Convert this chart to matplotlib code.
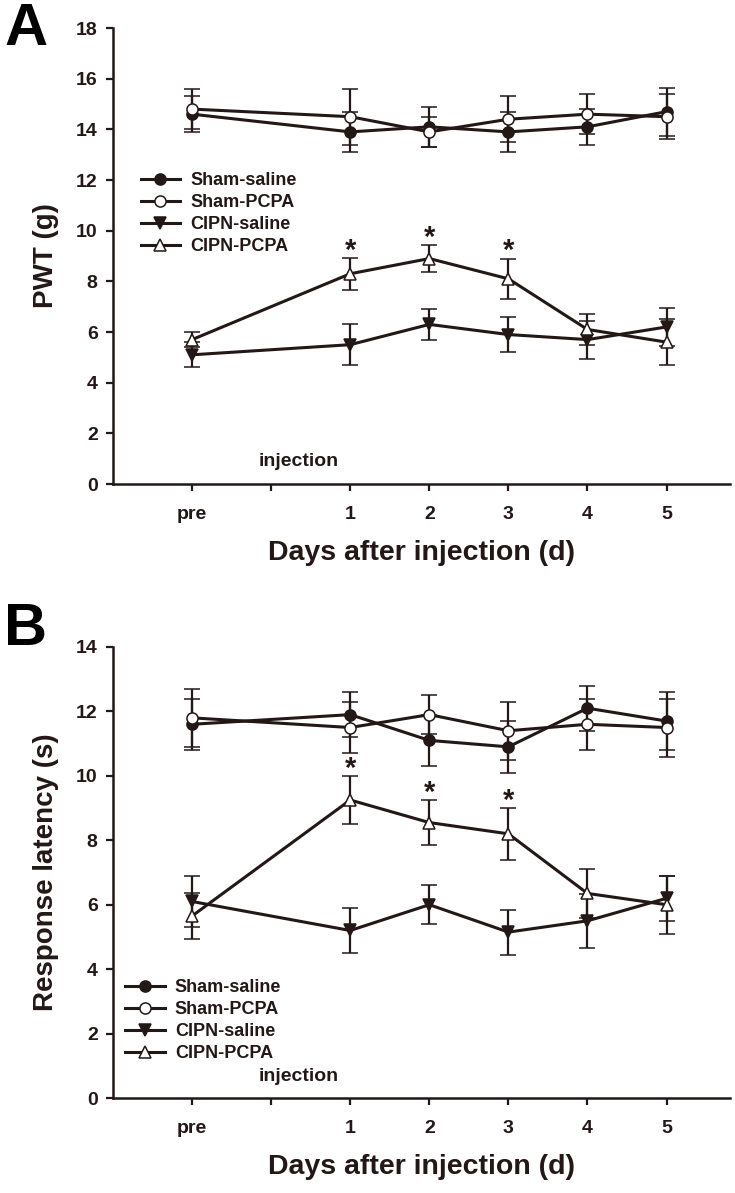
import matplotlib
matplotlib.use("Agg")
import matplotlib.pyplot as plt
from matplotlib.lines import Line2D

plt.rcParams['font.family'] = ['Liberation Sans', 'DejaVu Sans']
plt.rcParams['font.weight'] = 'bold'

INK = '#231816'

# x positions: pre, (blank), day 1..5
x_pos = [0, 2, 3, 4, 5, 6]
tick_pos = [0, 1, 2, 3, 4, 5, 6]
tick_labels = ['pre', '', '1', '2', '3', '4', '5']
groups = ['Sham-saline', 'Sham-PCPA', 'CIPN-saline', 'CIPN-PCPA']

# panel A: PWT (g)
pwt_sham_saline = [14.6, 13.9, 14.1, 13.9, 14.1, 14.7]
pwt_sham_saline_err = [0.7, 0.8, 0.8, 0.8, 0.7, 0.95]
pwt_sham_pcpa = [14.8, 14.5, 13.9, 14.4, 14.6, 14.5]
pwt_sham_pcpa_err = [0.8, 1.1, 0.6, 0.9, 0.8, 0.9]
pwt_cipn_saline = [5.1, 5.5, 6.3, 5.9, 5.7, 6.2]
pwt_cipn_saline_err = [0.5, 0.8, 0.6, 0.7, 0.75, 0.75]
pwt_cipn_pcpa = [5.7, 8.3, 8.9, 8.1, 6.1, 5.6]
pwt_cipn_pcpa_err = [0.3, 0.63, 0.53, 0.8, 0.6, 0.9]

# panel B: response latency (s)
lat_sham_saline = [11.6, 11.9, 11.1, 10.9, 12.1, 11.7]
lat_sham_saline_err = [0.8, 0.7, 0.8, 0.8, 0.7, 0.9]
lat_sham_pcpa = [11.8, 11.5, 11.9, 11.4, 11.6, 11.5]
lat_sham_pcpa_err = [0.9, 0.8, 0.6, 0.9, 0.8, 0.9]
lat_cipn_saline = [6.1, 5.2, 6.0, 5.15, 5.5, 6.2]
lat_cipn_saline_err = [0.8, 0.7, 0.6, 0.7, 0.83, 0.7]
lat_cipn_pcpa = [5.65, 9.25, 8.55, 8.2, 6.35, 6.0]
lat_cipn_pcpa_err = [0.7, 0.75, 0.7, 0.8, 0.75, 0.9]

star_days = [2, 3, 4]  # x positions of day 1..3

styles = [
    dict(marker='o', mfc=INK),
    dict(marker='o', mfc='white'),
    dict(marker='v', mfc=INK),
    dict(marker='^', mfc='white'),
]


def draw_panel(ax, series, errs, ylim, ylabel, leg_anchor):
    for name, y, e, st in zip(groups, series, errs, styles):
        ax.errorbar(x_pos, y, yerr=e, color=INK, lw=2.2, elinewidth=1.6,
                    capsize=5.5, capthick=1.6, ms=8, mec=INK, mew=1.1, **st)
    pc = series[3]
    pce = errs[3]
    for xs in star_days:
        i = x_pos.index(xs)
        ax.annotate('*', (xs, pc[i] + pce[i]), xytext=(0, -0.5),
                    textcoords='offset points', ha='center', va='baseline',
                    fontsize=21, color=INK)

    ax.set_xlim(-1, 6.8)
    ax.set_ylim(*ylim)
    ax.set_yticks(range(0, ylim[1] + 1, 2))
    ax.set_xticks(tick_pos)
    ax.set_xticklabels(tick_labels)
    for s in ['top', 'right']:
        ax.spines[s].set_visible(False)
    for s in ['left', 'bottom']:
        ax.spines[s].set_linewidth(1.8)
        ax.spines[s].set_color(INK)
    ax.tick_params(axis='both', direction='out', length=5, width=1.6,
                   color=INK, labelsize=14, labelcolor=INK)
    ax.tick_params(axis='x', pad=11)
    ax.tick_params(axis='y', pad=6)
    ax.set_ylabel(ylabel, fontsize=20, fontweight='bold', color=INK, labelpad=12)
    ax.set_xlabel('Days after injection (d)', fontsize=20.5, fontweight='bold',
                  color=INK, labelpad=12)
    ax.text(0.84, ylim[1] * 0.03, 'injection', fontsize=14, color=INK,
            ha='left', va='bottom')

    handles = [Line2D([], [], color=INK, lw=2.2, ms=8, mec=INK, mew=1.1, **st)
               for st in styles]
    leg = ax.legend(handles, groups, loc='upper left', bbox_to_anchor=leg_anchor,
                    frameon=False, fontsize=13, handlelength=2.2,
                    handletextpad=0.55, labelspacing=0.28, borderaxespad=0)
    for t in leg.get_texts():
        t.set_color(INK)


fig = plt.figure(figsize=(7.35, 11.93), dpi=100)
axA = fig.add_axes([0.1537, 0.5943, 0.8393, 0.3822])
axB = fig.add_axes([0.1537, 0.0796, 0.8393, 0.3781])

draw_panel(axA,
           [pwt_sham_saline, pwt_sham_pcpa, pwt_cipn_saline, pwt_cipn_pcpa],
           [pwt_sham_saline_err, pwt_sham_pcpa_err, pwt_cipn_saline_err, pwt_cipn_pcpa_err],
           (0, 18), 'PWT (g)', (0.033, 0.70))
draw_panel(axB,
           [lat_sham_saline, lat_sham_pcpa, lat_cipn_saline, lat_cipn_pcpa],
           [lat_sham_saline_err, lat_sham_pcpa_err, lat_cipn_saline_err, lat_cipn_pcpa_err],
           (0, 14), 'Response latency (s)', (0.008, 0.28))

fig.text(0.006, 1 - 45 / 1193, 'A', fontsize=43, fontweight='bold',
         color='black', ha='left', va='baseline')
fig.text(0.006, 1 - 645 / 1193, 'B', fontsize=43, fontweight='bold',
         color='black', ha='left', va='baseline')

fig.savefig('out.png', dpi=100)
